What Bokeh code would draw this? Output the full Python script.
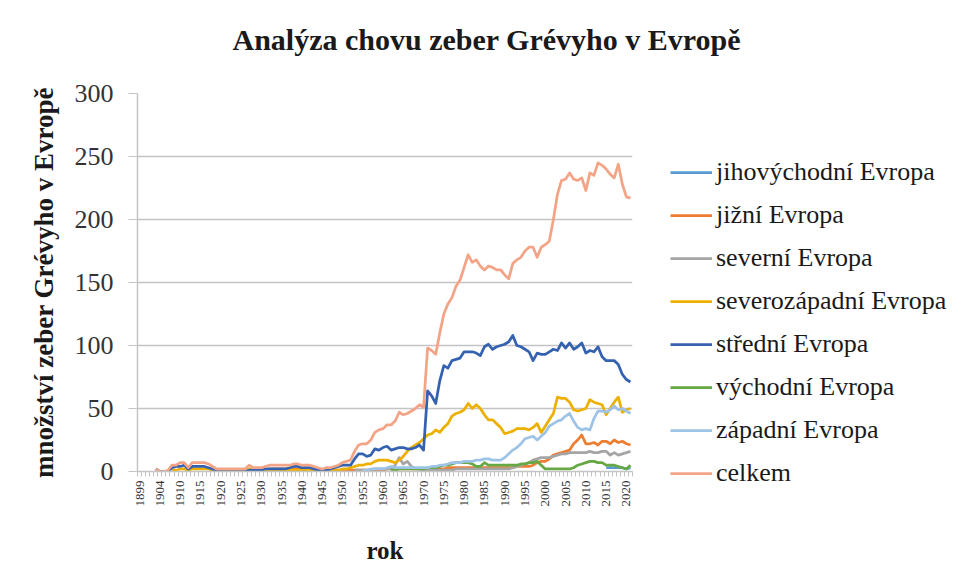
import math
import numpy as np
from bokeh.plotting import figure
from bokeh.layouts import row, column
from bokeh.models import FixedTicker, Legend, LegendItem, Range1d
from bokeh.embed import file_html
from bokeh.resources import INLINE

N = None

# category axis: years (1905 is absent in the source table)
years = [1899, 1900, 1901, 1902, 1903, 1904] + list(range(1906, 2022))

# rows: [1899..1909 without 1905], 1910s, 1920s, ... , 2020s
jihovychodni = (
    [N] * 10 + [N] * 10 + [N] * 10 + [N] * 10 + [N] * 10 + [N] * 10 + [N] * 10
    + [N] * 10 + [N] * 10 + [N] * 10 + [N] * 10
    + [N, N, N, N, N, 3, 3, 3, 3, 3]
    + [2, 3]
)
jizni = (
    [N] * 10 + [N] * 10 + [N] * 10
    + [N, 1, 2, 2, 2, 2, 2, 2, 2, 2]
    + [2, 2, 2, 2, 1, 1, 1, 1, 1, 1]
    + [1, 1, 1, 1, 1, 1, 1, 1, 1, 1]
    + [1, 2, 2, 2, 2, 2, 2, 2, 2, 2]
    + [2, 2, 2, 2, 2, 2, 3, 3, 3, 3]
    + [3, 3, 3, 3, 3, 3, 3, 3, 3, 3]
    + [3, 3, 3, 4, 4, 4, 4, 5, 7, 8]
    + [8, 10, 13, 14, 15, 16, 17, 22, 25, 29]
    + [22, 22, 23, 21, 24, 24, 22, 25, 23, 24]
    + [22, 21]
)
severni = (
    [N] * 10 + [N] * 10 + [N] * 10 + [N] * 10 + [N] * 10
    + [N, N, N, 1, 1, 1, 1, 1, 2, 2]
    + [2, 2, 2, 5, 11, 6, 8, 4, 2, 2]
    + [1, 1, 1, 1, 1, 1, 1, 1, 2, 2]
    + [2, 2, 2, 2, 2, 2, 2, 2, 2, 2]
    + [2, 2, 3, 4, 5, 6, 7, 9, 10, 11]
    + [11, 11, 12, 13, 14, 14, 15, 15, 15, 15]
    + [15, 16, 15, 15, 16, 16, 13, 15, 13, 14]
    + [15, 16]
)
severozapadni = (
    [N, N, N, N, N, N, N, N, 1, 1]
    + [2, 2, 1, 2, 2, 2, 2, 2, 1, 1]
    + [1, 1, 1, 1, 1, 1, 1, 2, 1, 1]
    + [1, 1, 1, 1, 1, 1, 1, 1, 1, 1]
    + [1, 1, 1, 1, 1, 1, 1, 1, 1, 1]
    + [2, 2, 3, 4, 5, 5, 6, 6, 8, 9]
    + [9, 9, 8, 7, 9, 12, 16, 19, 21, 23]
    + [26, 29, 30, 33, 31, 35, 38, 44, 46, 47]
    + [49, 54, 50, 53, 50, 45, 41, 41, 38, 35]
    + [30, 31, 32, 34, 34, 34, 33, 35, 38, 31]
    + [36, 41, 46, 59, 58, 58, 55, 49, 48, 49]
    + [50, 57, 55, 54, 53, 45, 50, 55, 59, 47]
    + [49, 50]
)
stredni = (
    [N, N, N, N, 2, 0, 0, 0, 3, 4]
    + [4, 5, 2, 4, 4, 4, 4, 3, 2, 0]
    + [0, 0, 0, 0, 0, 0, 0, 1, 1, 1]
    + [1, 2, 2, 2, 2, 2, 2, 3, 4, 4]
    + [3, 3, 3, 2, 1, 1, 1, 2, 3, 4]
    + [5, 5, 5, 10, 14, 14, 12, 13, 18, 17]
    + [19, 20, 17, 18, 19, 19, 18, 18, 19, 21]
    + [17, 64, 60, 54, 72, 84, 82, 88, 89, 90]
    + [95, 95, 95, 94, 92, 99, 101, 97, 99, 100]
    + [101, 103, 108, 100, 99, 97, 95, 88, 94, 93]
    + [93, 95, 97, 96, 102, 98, 102, 97, 99, 102]
    + [94, 96, 95, 99, 91, 88, 88, 88, 85, 77]
    + [73, 71]
)
vychodni = (
    [N] * 10 + [N] * 10 + [N] * 10 + [N] * 10 + [N] * 10 + [N] * 10
    + [N, N, 1, 1, 2, 2, 2, 2, 2, 2]
    + [2, 3, 3, 3, 4, 5, 5, 6, 7, 7]
    + [7, 7, 6, 4, 4, 7, 5, 5, 5, 5]
    + [5, 5, 5, 5, 6, 6, 7, 7, 8, 5]
    + [2, 2, 2, 2, 2, 2, 2, 3, 5, 6]
    + [7, 8, 8, 7, 7, 5, 5, 5, 4, 3]
    + [2, 5]
)
zapadni = (
    [N] * 10 + [N] * 10 + [N] * 10 + [N] * 10 + [N] * 10
    + [N, N, N, N, N, 1, 1, 2, 2, 2]
    + [2, 3, 4, 3, 3, 3, 3, 3, 3, 3]
    + [3, 3, 4, 4, 5, 5, 6, 7, 7, 7]
    + [8, 8, 8, 9, 9, 10, 10, 9, 9, 9]
    + [11, 14, 17, 19, 22, 26, 27, 28, 25, 28]
    + [31, 36, 38, 40, 41, 44, 46, 40, 35, 33]
    + [34, 33, 42, 48, 48, 47, 49, 52, 49, 50]
    + [48, 46]
)
celkem = (
    [N, N, N, N, 2, 0, 0, 1, 5, 5]
    + [7, 7, 3, 7, 7, 7, 7, 6, 4, 2]
    + [2, 2, 2, 2, 2, 2, 2, 5, 3, 3]
    + [3, 4, 5, 5, 5, 5, 5, 5, 6, 6]
    + [5, 5, 5, 4, 3, 2, 3, 3, 4, 5]
    + [7, 8, 9, 16, 21, 22, 22, 25, 31, 33]
    + [34, 37, 37, 40, 47, 45, 46, 48, 50, 53]
    + [51, 98, 96, 93, 110, 125, 133, 138, 147, 152]
    + [162, 172, 166, 168, 163, 160, 163, 162, 160, 160]
    + [156, 153, 165, 168, 170, 175, 178, 178, 170, 178]
    + [180, 183, 200, 220, 231, 232, 237, 232, 231, 233]
    + [223, 237, 235, 245, 243, 240, 236, 233, 244, 228]
    + [218, 217]
)

series_names = ["jihovýchodní Evropa", "jižní Evropa", "severní Evropa",
                "severozápadní Evropa", "střední Evropa", "východní Evropa",
                "západní Evropa", "celkem"]
series_values = [jihovychodni, jizni, severni, severozapadni, stredni,
                 vychodni, zapadni, celkem]
series_colors = ["#5B9BD5", "#ED7D31", "#A5A5A5", "#EDB000", "#3462B0",
                 "#66A843", "#9DC3E6", "#F3A486"]

y_ticks = [0, 50, 100, 150, 200, 250, 300]
title_text = "Analýza chovu zeber Grévyho v Evropě"

FONT = "Liberation Serif"
GRID = "#C4C4C4"
TOP_H = 70          # title strip height
H = 496             # plot row height
FRAME_TOP = 93      # page y of the plot frame top
FRAME_H = 378

x = list(range(len(years)))
label_pos = list(range(0, len(years), 5))

# --- title strip ---
t = figure(width=960, height=TOP_H, output_backend="svg", toolbar_location=None,
           x_range=Range1d(0, 1), y_range=Range1d(0, 1),
           x_axis_location=None, y_axis_location=None,
           min_border_left=0, min_border_right=0, min_border_top=62,
           min_border_bottom=0)
t.grid.visible = False
t.outline_line_color = None
t.title.text = title_text
t.title.text_font = FONT
t.title.text_font_size = "30px"
t.title.text_font_style = "bold"
t.title.text_color = "#1a1a1a"
t.title.align = "left"
t.title.offset = 232
t.title.standoff = 14

# --- main plot ---
p = figure(width=636, height=H, output_backend="svg", toolbar_location=None,
           x_range=Range1d(-0.5, len(years) - 0.5), y_range=Range1d(0, 300),
           min_border_left=137, min_border_right=4,
           min_border_top=FRAME_TOP - TOP_H,
           min_border_bottom=H - (FRAME_TOP - TOP_H) - FRAME_H)
p.background_fill_color = "white"
p.border_fill_color = "white"
p.outline_line_color = None

# x axis
xa = p.xaxis[0]
xa.ticker = FixedTicker(ticks=label_pos,
                        minor_ticks=[i - 0.5 for i in range(len(years) + 1)])
xa.major_label_overrides = {i: str(years[i]) for i in label_pos}
xa.major_tick_line_color = None
xa.major_tick_in = 0
xa.major_tick_out = 5
xa.minor_tick_in = 0
xa.minor_tick_out = 5
xa.minor_tick_line_color = GRID
xa.axis_line_color = GRID
xa.axis_line_width = 1.5
xa.major_label_orientation = math.pi / 2
xa.major_label_text_font = FONT
xa.major_label_text_font_size = "13px"
xa.major_label_text_color = "#333333"
xa.major_label_standoff = 4
xa.axis_label = "rok"
xa.axis_label_text_font = FONT
xa.axis_label_text_font_size = "25px"
xa.axis_label_text_font_style = "bold"
xa.axis_label_text_color = "#1a1a1a"
xa.axis_label_standoff = 27

# y axis
ya = p.yaxis[0]
ya.ticker = FixedTicker(ticks=y_ticks)
ya.minor_tick_line_color = None
ya.major_tick_in = 0
ya.major_tick_out = 9
ya.major_tick_line_color = GRID
ya.axis_line_color = GRID
ya.axis_line_width = 1.5
ya.major_label_text_font = FONT
ya.major_label_text_font_size = "26px"
ya.major_label_text_color = "#333333"
ya.major_label_standoff = 15
ya.axis_label = "množství zeber Grévyho v Evropě"
ya.axis_label_text_font = FONT
ya.axis_label_text_font_size = "27px"
ya.axis_label_text_font_style = "bold"
ya.axis_label_text_color = "#1a1a1a"
ya.axis_label_standoff = 13

p.xgrid.visible = False
p.ygrid.grid_line_color = GRID
p.ygrid.grid_line_width = 1.5

# --- legend strip (its own lines are kept out of view) ---
q = figure(width=324, height=H, output_backend="svg", toolbar_location=None,
           x_range=Range1d(-0.5, len(years) - 0.5), y_range=Range1d(1000, 1001),
           x_axis_location=None, y_axis_location=None,
           min_border_left=34, min_border_right=0, min_border_top=157 - TOP_H,
           min_border_bottom=0)
q.grid.visible = False
q.outline_line_color = None

items = []
for name, vals, col in zip(series_names, series_values, series_colors):
    yv = np.array(vals, dtype=float)
    p.line(x, yv, line_color=col, line_width=2.75, line_join="round")
    key = q.line(x, yv, line_color=col, line_width=2.75)
    items.append(LegendItem(label=name, renderers=[key]))

legend = Legend(items=items, location="top_left")
legend.label_text_font = FONT
legend.label_text_font_size = "26px"
legend.label_text_color = "#1a1a1a"
legend.glyph_width = 42
legend.glyph_height = 30
legend.label_height = 30
legend.spacing = 13
legend.label_standoff = 4
legend.padding = 0
legend.margin = 0
legend.border_line_color = None
legend.background_fill_alpha = 0
q.add_layout(legend, "center")

layout = column(t, row(p, column(q)))
open("out.html", "w").write(file_html(layout, INLINE))
